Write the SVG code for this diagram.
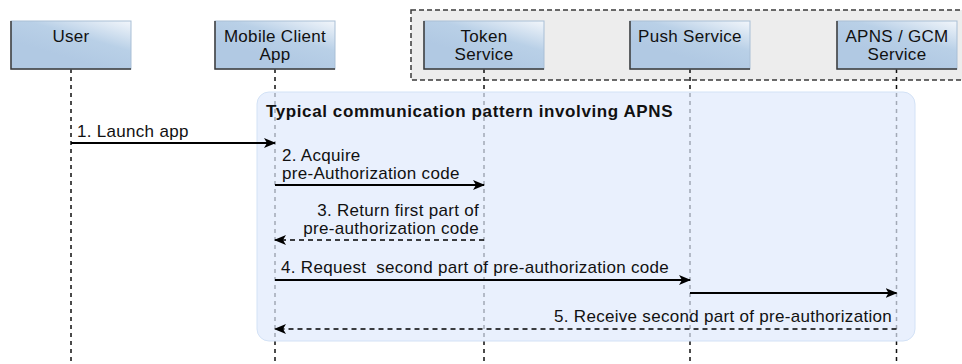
<svg xmlns="http://www.w3.org/2000/svg" width="962" height="364" viewBox="0 0 962 364">
<defs>
<linearGradient id="bg" x1="0.45" y1="0.75" x2="1" y2="0">
<stop offset="0" stop-color="#b1c9e3"/>
<stop offset="0.45" stop-color="#b9d0e7"/>
<stop offset="1" stop-color="#f2f6fb"/>
</linearGradient>
<marker id="ah" viewBox="0 0 12 10" refX="11" refY="5" markerWidth="12" markerHeight="10" markerUnits="userSpaceOnUse" orient="auto">
<path d="M0,0 L12,5 L0,10 L3,5 Z" fill="#000"/>
</marker>
<style>
text{font-family:"Liberation Sans",Arial,sans-serif;font-size:17px;letter-spacing:0.3px;fill:#111;white-space:pre}
.c{text-anchor:middle}
.r{text-anchor:end}
.b{font-weight:bold;letter-spacing:0.6px}
.box{fill:url(#bg);stroke:#a9bfd6;stroke-width:1}
.sh{fill:none;stroke:#3a3a3a;stroke-width:1.5}
.life{stroke:#111;stroke-width:1.5;stroke-dasharray:4 4;fill:none}
.msg{stroke:#000;stroke-width:2;fill:none;marker-end:url(#ah)}
.ret{stroke:#000;stroke-width:1.4;stroke-dasharray:5 4;fill:none;marker-end:url(#ah)}
</style>
</defs>
<rect width="962" height="364" fill="#fff"/>
<g id="services-group">
<rect x="411" y="10" width="560" height="70" fill="#ededed" stroke="#3a3a3a" stroke-width="1.5" stroke-dasharray="5 3"/>
</g>
<g id="lifelines">
<line class="life" x1="71" y1="69" x2="71" y2="364"/>
<line class="life" x1="275" y1="69" x2="275" y2="364"/>
<line class="life" x1="484" y1="69" x2="484" y2="364"/>
<line class="life" x1="690" y1="69" x2="690" y2="364"/>
<line class="life" x1="896.5" y1="69" x2="896.5" y2="364"/>
</g>
<g id="user">
<rect class="box" x="11" y="21" width="120" height="48"/>
<path class="sh" d="M11,21 V69 H131"/>
<text class="c" x="71" y="42">User</text>
</g>
<g id="mobile-client-app">
<rect class="box" x="215" y="21" width="120" height="48"/>
<path class="sh" d="M215,21 V69 H335"/>
<text class="c" x="275" y="42">Mobile Client<tspan x="275" dy="18">App</tspan></text>
</g>
<g id="token-service">
<rect class="box" x="424" y="21" width="120" height="48"/>
<path class="sh" d="M424,21 V69 H544"/>
<text class="c" x="484" y="42">Token<tspan x="484" dy="18">Service</tspan></text>
</g>
<g id="push-service">
<rect class="box" x="630" y="21" width="120" height="48"/>
<path class="sh" d="M630,21 V69 H750"/>
<text class="c" x="690" y="42">Push Service</text>
</g>
<g id="apns-gcm-service">
<rect class="box" x="837" y="21" width="120" height="48"/>
<path class="sh" d="M837,21 V69 H957"/>
<text class="c" x="897" y="42">APNS / GCM<tspan x="897" dy="18">Service</tspan></text>
</g>
<g id="pattern-frame">
<rect x="257" y="92" width="658" height="249" rx="12" ry="12" fill="#dfeafc" fill-opacity="0.7" stroke="#d3e2f6" stroke-width="1"/>
<text class="b" x="266" y="117">Typical communication pattern involving APNS</text>
</g>
<g id="connectors">
<line class="msg" x1="71" y1="143" x2="275" y2="143"/>
<line class="msg" x1="275" y1="185" x2="484" y2="185"/>
<line class="ret" x1="484" y1="240" x2="275" y2="240"/>
<line class="msg" x1="275" y1="280" x2="690" y2="280"/>
<line class="msg" x1="690" y1="293" x2="896.5" y2="293"/>
<line class="ret" x1="896.5" y1="329" x2="275" y2="329"/>
</g>
<g id="labels">
<text x="77" y="137">1. Launch app</text>
<text x="282" y="161">2. Acquire<tspan x="282" dy="18">pre-Authorization code</tspan></text>
<text class="r" x="479" y="216">3. Return first part of<tspan x="479" dy="18">pre-authorization code</tspan></text>
<text x="281" y="273">4. Request  second part of pre-authorization code</text>
<text class="r" x="892" y="322">5. Receive second part of pre-authorization</text>
</g>
</svg>
